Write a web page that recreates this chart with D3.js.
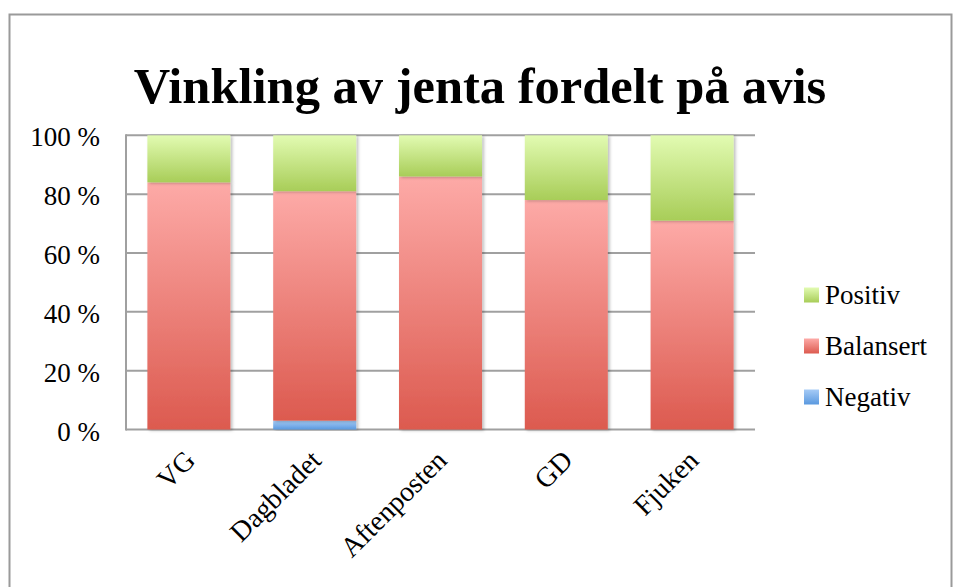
<!DOCTYPE html>
<html lang="en">
<head>
<meta charset="utf-8">
<title>Vinkling av jenta fordelt på avis</title>
<style>
  body { margin: 0; background: #fff; }
  svg { display: block; }
  text { font-family: "Liberation Serif", "Times New Roman", serif; fill: #000; }
</style>
<script src="https://cdn.jsdelivr.net/npm/d3@7"></script>
</head>
<body>
<script>
// data
var aviser = ["VG", "Dagbladet", "Aftenposten", "GD", "Fjuken"];
var negativ = [0, 3, 0, 0, 0];
var balansert = [84, 78, 86, 78, 71];
var positiv = [16, 19, 14, 22, 29];
var yTicks = [0, 20, 40, 60, 80, 100];
var serier = ["Negativ", "Balansert", "Positiv"];

var width = 956, height = 587;
var m = {left: 126, top: 135.3, right: 755, bottom: 429.5};

var svg = d3.select("body").append("svg")
  .attr("width", width)
  .attr("height", height);

// gradients, one per series
var defs = svg.append("defs");
var grad = {
  Positiv:   ["#e2fbb2", "#a8cd58"],
  Balansert: ["#fdaaa7", "#dc5a4f"],
  Negativ:   ["#a6cbf6", "#5a99df"]
};
serier.forEach(function(s) {
  var g = defs.append("linearGradient").attr("id", "g" + s)
    .attr("x1", 0).attr("y1", 0).attr("x2", 0).attr("y2", 1);
  g.append("stop").attr("offset", "0%").attr("stop-color", grad[s][0]);
  g.append("stop").attr("offset", "100%").attr("stop-color", grad[s][1]);
});
var f = defs.append("filter").attr("id", "skygge")
  .attr("x", "-10%").attr("y", "-5%").attr("width", "130%").attr("height", "115%");
f.append("feDropShadow").attr("dx", 2).attr("dy", 1).attr("stdDeviation", 1.5)
  .attr("flood-color", "#000").attr("flood-opacity", 0.25);

// outer frame
svg.append("rect")
  .attr("x", 9.5).attr("y", 14.5)
  .attr("width", 942).attr("height", 600)
  .attr("fill", "none").attr("stroke", "#9a9a9a").attr("stroke-width", 2);

// title
svg.append("text")
  .attr("x", 480).attr("y", 103)
  .attr("text-anchor", "middle")
  .style("font-weight", "bold")
  .style("font-size", "50.5px")
  .text("Vinkling av jenta fordelt på avis");

var x = d3.scaleBand()
  .domain(aviser)
  .range([m.left, m.right])
  .paddingInner(0.34)
  .paddingOuter(0.17);

var y = d3.scaleLinear()
  .domain([0, 100])
  .range([m.bottom, m.top]);

// gridlines
svg.append("g").selectAll("line")
  .data(yTicks)
  .enter().append("line")
  .attr("x1", m.left).attr("x2", m.right)
  .attr("y1", function(d) { return y(d); })
  .attr("y2", function(d) { return y(d); })
  .attr("stroke", "#a0a0a0").attr("stroke-width", 2);

svg.append("line")
  .attr("x1", m.left).attr("x2", m.left)
  .attr("y1", y(100) - 1).attr("y2", y(0) + 1)
  .attr("stroke", "#a0a0a0").attr("stroke-width", 2);

// y labels
svg.append("g").selectAll("text")
  .data(yTicks)
  .enter().append("text")
  .attr("x", 100)
  .attr("y", function(d) { return y(d) + 11; })
  .attr("text-anchor", "end")
  .style("font-size", "27px")
  .text(function(d) { return d + " %"; });

// stacked bars
var rows = aviser.map(function(a, i) {
  return {avis: a, Negativ: negativ[i], Balansert: balansert[i], Positiv: positiv[i]};
});
var stack = d3.stack().keys(serier)(rows);

svg.append("g").selectAll("g")
  .data(stack)
  .enter().append("g")
  .attr("fill", function(d) { return "url(#g" + d.key + ")"; })
  .attr("filter", "url(#skygge)")
  .selectAll("rect")
  .data(function(d) { return d.filter(function(p) { return p[1] - p[0] > 0; }); })
  .enter().append("rect")
  .attr("x", function(d) { return x(d.data.avis); })
  .attr("width", x.bandwidth())
  .attr("y", function(d) { return y(d[1]); })
  .attr("height", function(d) { return y(d[0]) - y(d[1]); });

// x labels
svg.append("g").selectAll("text")
  .data(aviser)
  .enter().append("text")
  .attr("transform", function(d) {
    return "translate(" + (x(d) + x.bandwidth() / 2 + 8) + ",462) rotate(-45)";
  })
  .attr("text-anchor", "end")
  .style("font-size", "28px")
  .text(function(d) { return d; });

// legend
var legend = svg.append("g").selectAll("g")
  .data(["Positiv", "Balansert", "Negativ"])
  .enter().append("g")
  .attr("transform", function(d, i) { return "translate(804," + (295 + i * 51) + ")"; });
legend.append("rect")
  .attr("x", 0).attr("y", -7.5)
  .attr("width", 15).attr("height", 15)
  .attr("fill", function(d) { return "url(#g" + d + ")"; });
legend.append("text")
  .attr("x", 21).attr("y", 9)
  .style("font-size", "27px")
  .text(function(d) { return d; });
</script>
</body>
</html>
